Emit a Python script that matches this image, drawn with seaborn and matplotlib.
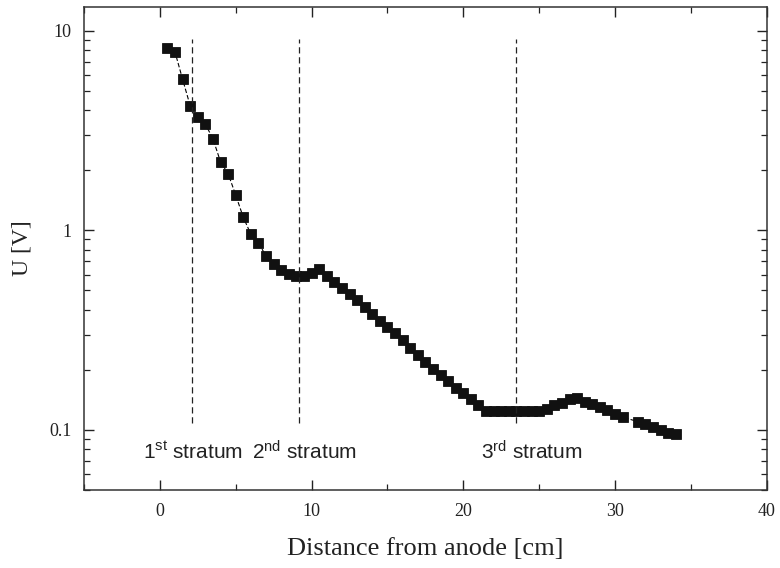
import matplotlib
matplotlib.use("Agg")
import matplotlib.pyplot as plt
import seaborn as sns
import pandas as pd
from matplotlib.ticker import FixedLocator, FixedFormatter, LogLocator, NullFormatter, MultipleLocator

distance_cm = [0.5, 1.0, 1.5, 2.0, 2.5, 3.0, 3.5, 4.0, 4.5, 5.0,
               5.5, 6.0, 6.5, 7.0, 7.5, 8.0, 8.5, 9.0, 9.5, 10.0,
               10.5, 11.0, 11.5, 12.0, 12.5, 13.0, 13.5, 14.0, 14.5, 15.0,
               15.5, 16.0, 16.5, 17.0, 17.5, 18.0, 18.5, 19.0, 19.5, 20.0,
               20.5, 21.0, 21.5, 22.0, 22.5, 23.0, 23.5, 24.0, 24.5, 25.0,
               25.5, 26.0, 26.5, 27.0, 27.5, 28.0, 28.5, 29.0, 29.5, 30.0,
               30.5, 31.5, 32.0, 32.5, 33.0, 33.5, 34.0]
voltage_V = [8.2, 7.8, 5.7, 4.2, 3.7, 3.4, 2.87, 2.2, 1.92, 1.5,
             1.16, 0.955, 0.865, 0.742, 0.677, 0.632, 0.605, 0.59, 0.59, 0.613,
             0.637, 0.59, 0.549, 0.513, 0.48, 0.445, 0.412, 0.382, 0.352, 0.329,
             0.305, 0.281, 0.258, 0.236, 0.218, 0.203, 0.188, 0.175, 0.162, 0.153,
             0.143, 0.134, 0.125, 0.124, 0.124, 0.124, 0.124, 0.124, 0.124, 0.124,
             0.128, 0.134, 0.136, 0.143, 0.145, 0.138, 0.135, 0.13, 0.126, 0.12,
             0.116, 0.110, 0.107, 0.104, 0.100, 0.096, 0.095]

strata_x = [2.15, 9.2, 23.5]
strata_labels = [r"1$^{\mathrm{st}}$ stratum", r"2$^{\mathrm{nd}}$ stratum", r"3$^{\mathrm{rd}}$ stratum"]
strata_label_x = [2.15, 9.55, 24.5]

x_ticks = [0, 10, 20, 30, 40]
y_ticks = [0.1, 1, 10]
y_tick_labels = ["0.1", "1", "10"]

sns.set_style("ticks")
plt.rcParams["font.family"] = ["Liberation Serif", "DejaVu Serif"]
plt.rcParams["mathtext.fontset"] = "custom"
plt.rcParams["mathtext.rm"] = "Liberation Sans"
plt.rcParams["mathtext.it"] = "Liberation Sans:italic"
plt.rcParams["mathtext.bf"] = "Liberation Sans:bold"

df = pd.DataFrame({"x": distance_cm, "U": voltage_V})

fig = plt.figure(figsize=(7.8, 5.68), dpi=100)
ax = fig.add_axes([0.1077, 0.1373, 0.8753, 0.850])

sns.lineplot(data=df, x="x", y="U", ax=ax, color="black", linewidth=0.8,
             linestyle=(0, (4, 2)), marker="s", markersize=7.6,
             markerfacecolor="#111111", markeredgecolor="#111111", markeredgewidth=0.6)

ax.set_yscale("log")
ax.set_xlim(-5, 40)
ax.set_ylim(0.05, 13.1)

ax.vlines(strata_x, 0.108, 9.1, colors="#222222", linestyles=(0, (5, 3)), linewidth=0.9)
for lx, lab in zip(strata_label_x, strata_labels):
    ax.text(lx, 0.0775, lab, ha="center", va="center", fontsize=15,
            color="#222222", family=["Liberation Sans", "DejaVu Sans"])

ax.xaxis.set_major_locator(FixedLocator(x_ticks))
ax.xaxis.set_minor_locator(MultipleLocator(5))
ax.yaxis.set_major_locator(FixedLocator(y_ticks))
ax.yaxis.set_major_formatter(FixedFormatter(y_tick_labels))
ax.yaxis.set_minor_locator(LogLocator(base=10, subs=range(2, 10)))
ax.yaxis.set_minor_formatter(NullFormatter())

ax.tick_params(which="both", direction="in", top=True, right=True, colors="#222222",
               labelsize=13, labelcolor="#222222")
ax.tick_params(which="major", length=7, width=1.0, pad=9)
ax.tick_params(which="minor", length=4, width=0.9)
for s in ax.spines.values():
    s.set_linewidth(1.1)
    s.set_color("#333333")

ax.set_xlabel("Distance from anode [cm]", fontsize=19, color="#222222", labelpad=13)
ax.set_ylabel("U [V]", fontsize=17, color="#222222", labelpad=12)

fig.savefig("out.png", dpi=100)
